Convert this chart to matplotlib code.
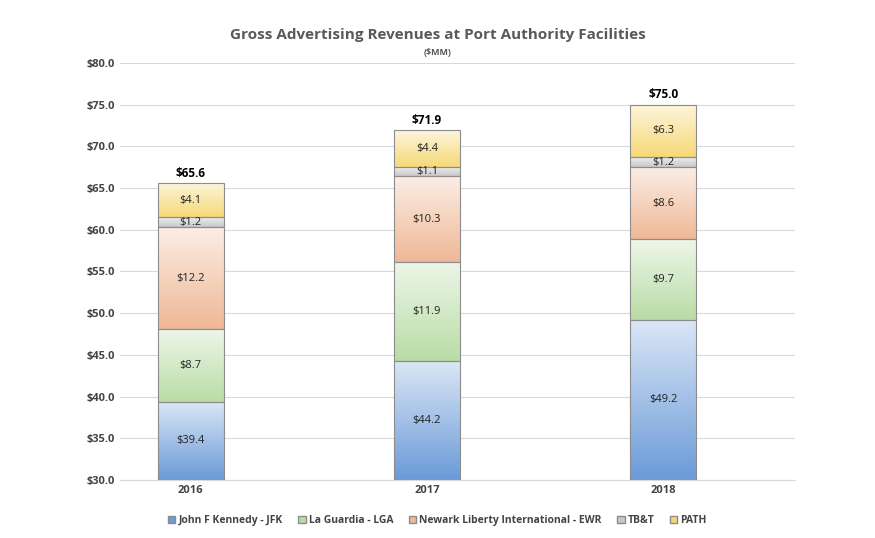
import numpy as np
import matplotlib
matplotlib.use("Agg")
import matplotlib.pyplot as plt
from matplotlib.colors import to_rgb
from matplotlib.patches import Patch

years = ["2016", "2017", "2018"]
series = {
    "John F Kennedy - JFK": [39.4, 44.2, 49.2],
    "La Guardia - LGA": [8.7, 11.9, 9.7],
    "Newark Liberty International - EWR": [12.2, 10.3, 8.6],
    "TB&T": [1.2, 1.1, 1.2],
    "PATH": [4.1, 4.4, 6.3],
}
colors = ["#6b9bd8", "#b9dca6", "#efb896", "#c8c8c8", "#f6d977"]
ymin = 30

plt.rcParams["font.family"] = ["Open Sans", "DejaVu Sans"]
fig = plt.figure(figsize=(8.75, 5.38), dpi=100)
ax = fig.add_axes([0.137, 0.108, 0.772, 0.775])
x = np.arange(len(years))
width = 0.28
bottom = np.zeros(len(years))

for (name, vals), col in zip(series.items(), colors):
    vals = np.array(vals)
    bars = ax.bar(x, vals, width, bottom=bottom, facecolor="none",
                  edgecolor="#8c8c8c", linewidth=0.8, zorder=3)
    base = np.array(to_rgb(col))
    t = np.linspace(0, 1, 64)[:, None]
    grad = (1 - t) * base + t * (0.75 * np.ones(3) + 0.25 * base)
    grad = np.clip(grad, 0, 1)[:, None, :]
    for i, b in enumerate(bars):
        lo = max(bottom[i], ymin)
        hi = bottom[i] + vals[i]
        im = ax.imshow(grad, extent=[x[i] - width / 2, x[i] + width / 2, lo, hi],
                       origin="lower", aspect="auto", zorder=2)
        im.set_clip_path(b)
        ax.text(x[i], (lo + hi) / 2, f"${vals[i]:.1f}", ha="center", va="center",
                fontsize=8, color="#222222", zorder=4)
    bottom += vals

for i, tot in enumerate(bottom):
    ax.text(x[i], tot + 0.4, f"${tot:.1f}", ha="center", va="bottom",
            fontsize=8.5, fontweight="bold", zorder=4)

ax.set_xlim(-0.3, 2.56)
ax.set_ylim(ymin, 80)
ax.set_yticks(np.arange(30, 80.1, 5))
ax.set_yticklabels([f"${v:.1f}" for v in np.arange(30, 80.1, 5)], fontsize=8, fontweight="bold", color="#444444")
ax.set_xticks(x)
ax.set_xticklabels(years, fontsize=8, fontweight="bold", color="#444444")
ax.tick_params(length=0)
ax.grid(axis="y", color="#d9d9d9", linewidth=0.8, zorder=0)
for s in ["top", "right", "left"]:
    ax.spines[s].set_visible(False)
ax.spines["bottom"].set_color("#d9d9d9")

fig.text(0.5, 0.928, "Gross Advertising Revenues at Port Authority Facilities",
         ha="center", fontsize=11, fontweight="bold", color="#595959")
fig.text(0.5, 0.898, "($MM)", ha="center", fontsize=6.5, fontweight="bold", color="#595959")

handles = [Patch(facecolor=c, edgecolor="#8c8c8c") for c in colors]
fig.legend(handles, list(series.keys()), loc="lower center", bbox_to_anchor=(0.5, 0.005),
           ncol=5, frameon=False, handlelength=0.7, handleheight=0.7,
           handletextpad=0.3, columnspacing=1.5,
           prop={"size": 7.5, "weight": "bold"}, labelcolor="#444444")

fig.savefig("out.png", dpi=100)
